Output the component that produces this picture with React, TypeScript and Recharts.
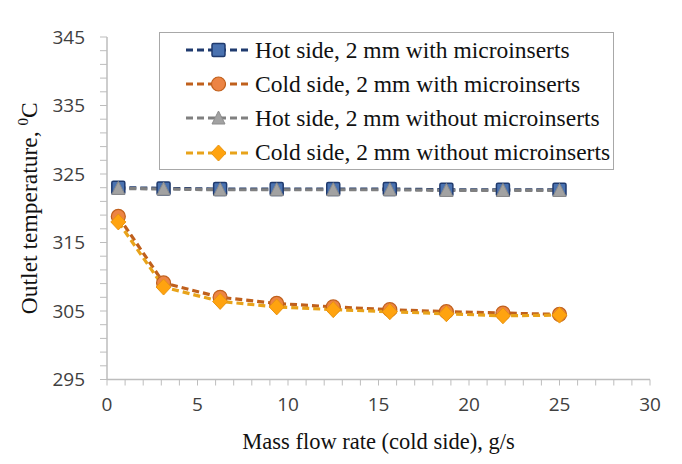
import React from "react";
import { LineChart, Line, XAxis, YAxis, Legend, Label } from "recharts";

// mass flow rate, cold side (g/s)
const flowRates = [0.625, 3.125, 6.25, 9.375, 12.5, 15.625, 18.75, 21.875, 25];

// outlet temperatures (°C)
const hotWith = [323.0, 322.9, 322.8, 322.8, 322.8, 322.8, 322.7, 322.7, 322.7];
const coldWith = [318.8, 309.1, 307.0, 306.1, 305.6, 305.2, 304.9, 304.7, 304.5];
const hotWithout = [322.9, 322.8, 322.7, 322.7, 322.7, 322.7, 322.6, 322.6, 322.6];
const coldWithout = [318.0, 308.5, 306.4, 305.6, 305.2, 304.9, 304.6, 304.3, 304.4];

const xTicks = Array.from({ length: 31 }, (_, i) => i);
const yTicks = Array.from({ length: 26 }, (_, i) => 295 + i * 2);

const data = flowRates.map((x, i) => ({
  x,
  hotWith: hotWith[i],
  coldWith: coldWith[i],
  hotWithout: hotWithout[i],
  coldWithout: coldWithout[i],
}));

type Shape = "square" | "circle" | "triangle" | "diamond";

const series: {
  key: string;
  name: string;
  line: string;
  fill: string;
  edge: string;
  shape: Shape;
}[] = [
  { key: "hotWith", name: "Hot side, 2 mm with microinserts", line: "#1F3A6E", fill: "#4A72B0", edge: "#1F3A6E", shape: "square" },
  { key: "coldWith", name: "Cold side, 2 mm with microinserts", line: "#C0601C", fill: "#EC8444", edge: "#C0601C", shape: "circle" },
  { key: "hotWithout", name: "Hot side, 2 mm without microinserts", line: "#808080", fill: "#A2A2A2", edge: "#8C8C8C", shape: "triangle" },
  { key: "coldWithout", name: "Cold side, 2 mm without microinserts", line: "#E8A31A", fill: "#FFA30F", edge: "#E89410", shape: "diamond" },
];

const serif = "'Liberation Serif', 'Times New Roman', serif";
const sans = "'Open Sans', 'Liberation Sans', sans-serif";
const axisGrey = "#BDBDBD";

function Marker({ shape, cx, cy, fill, edge }: { shape: Shape; cx: number; cy: number; fill: string; edge: string }) {
  if (shape === "square")
    return <rect x={cx - 6.5} y={cy - 6.5} width={13} height={13} rx={1.5} fill={fill} stroke={edge} strokeWidth={1.5} />;
  if (shape === "circle") return <circle cx={cx} cy={cy} r={7} fill={fill} stroke={edge} strokeWidth={1.2} />;
  if (shape === "triangle")
    return (
      <polygon
        points={`${cx},${cy - 7} ${cx + 6.5},${cy + 6} ${cx - 6.5},${cy + 6}`}
        fill={fill}
        stroke={edge}
        strokeWidth={1}
      />
    );
  return (
    <polygon
      points={`${cx},${cy - 8} ${cx + 7.5},${cy} ${cx},${cy + 8} ${cx - 7.5},${cy}`}
      fill={fill}
      stroke={edge}
      strokeWidth={1}
    />
  );
}

function YTick(props: any) {
  const { x, y, payload } = props;
  if ((payload.value - 295) % 10 !== 0) return <g />;
  return (
    <text x={x} y={y} dy="0.36em" textAnchor="end" fontFamily={sans} fontSize={19} fill="#404040">
      {payload.value}
    </text>
  );
}

function XTick(props: any) {
  const { x, y, payload } = props;
  if (payload.value % 5 !== 0) return <g />;
  return (
    <text x={x} y={y} dy="0.72em" textAnchor="middle" fontFamily={sans} fontSize={19} fill="#404040">
      {payload.value}
    </text>
  );
}

function YTitle(props: any) {
  const vb = props.viewBox || { x: 0, y: 37, width: 107, height: 343 };
  const cx = vb.x + 29;
  const cy = vb.y + vb.height / 2;
  return (
    <text
      x={cx}
      y={cy}
      dy="0.35em"
      textAnchor="middle"
      transform={`rotate(-90, ${cx}, ${cy})`}
      fontFamily={serif}
      fontSize={23.5}
      fill="#111"
    >
      Outlet temperature,{" "}
      <tspan dy={-9} fontSize={15}>
        0
      </tspan>
      <tspan dy={9}>C</tspan>
    </text>
  );
}

function LegendBox() {
  return (
    <div
      style={{
        width: 455,
        height: 138,
        boxSizing: "border-box",
        border: "1.5px solid #A8A8A8",
        background: "#fff",
        paddingTop: 0,
      }}
    >
      {series.map((s) => (
        <div key={s.key} style={{ display: "flex", alignItems: "center", height: 34.2 }}>
          <svg width={72} height={20} style={{ marginLeft: 24, flexShrink: 0 }}>
            <line x1={2} y1={10} x2={67} y2={10} stroke={s.line} strokeWidth={3.2} strokeDasharray="7 4" />
            <Marker shape={s.shape} cx={34.5} cy={10} fill={s.fill} edge={s.edge} />
          </svg>
          <span style={{ fontFamily: serif, fontSize: 23.5, color: "#111", whiteSpace: "nowrap", marginLeft: -1 }}>
            {s.name}
          </span>
        </div>
      ))}
    </div>
  );
}

export default function App() {
  return (
    <div style={{ position: "absolute", left: 0, top: 0, width: 682, height: 464, background: "#fff" }}>
      <LineChart width={682} height={464} data={data} margin={{ top: 37, right: 32, bottom: 0, left: 0 }}>
        <XAxis
          dataKey="x"
          type="number"
          domain={[0, 30]}
          ticks={xTicks}
          interval={0}
          height={84.5}
          tickSize={6}
          tickMargin={12}
          stroke={axisGrey}
          tickLine={{ stroke: axisGrey }}
          axisLine={{ stroke: axisGrey, strokeWidth: 1.5 }}
          tick={<XTick />}
        >
          <Label
            value="Mass flow rate (cold side), g/s"
            position="insideBottom"
            offset={15}
            style={{ fontFamily: serif, fontSize: 22.5, fill: "#111" }}
          />
        </XAxis>
        <YAxis
          type="number"
          domain={[295, 345]}
          ticks={yTicks}
          interval={0}
          width={107}
          tickSize={7}
          tickMargin={15}
          stroke={axisGrey}
          tickLine={{ stroke: axisGrey }}
          axisLine={{ stroke: axisGrey, strokeWidth: 1.5 }}
          tick={<YTick />}
        >
          <Label content={<YTitle />} />
        </YAxis>
        <Legend
          layout="horizontal"
          verticalAlign="middle"
          align="center"
          wrapperStyle={{ position: "absolute", left: 159, top: 32, width: 455 }}
          content={() => <LegendBox />}
        />
        {series.map((s) => (
          <Line
            key={s.key}
            dataKey={s.key}
            name={s.name}
            type="linear"
            stroke={s.line}
            strokeWidth={3.2}
            strokeDasharray="7 4"
            isAnimationActive={false}
            dot={(p: any) => (
              <Marker key={`${s.key}-${p.index}`} shape={s.shape} cx={p.cx} cy={p.cy} fill={s.fill} edge={s.edge} />
            )}
            activeDot={false}
          />
        ))}
      </LineChart>
    </div>
  );
}
